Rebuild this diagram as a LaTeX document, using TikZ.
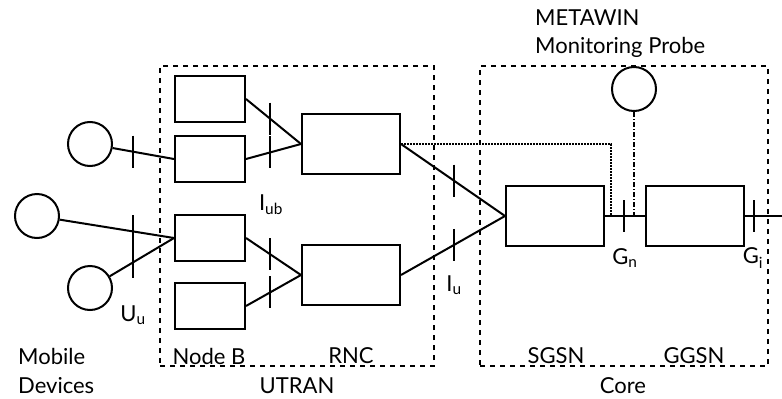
\documentclass[tikz,border=0pt]{standalone}
\usepackage{fontspec}
\setmainfont{Lato}
\usetikzlibrary{calc}
\tikzset{
  wire/.style={line width=2pt},
  elem/.style={draw, line width=2pt, rectangle, inner sep=0pt},
  nodeb/.style={elem, minimum width=70pt, minimum height=46pt},
  netbox/.style={elem, minimum width=98pt, minimum height=60pt},
  dev/.style={draw, line width=2pt, circle, minimum size=44pt, inner sep=0pt},
  region/.style={draw, line width=2pt, dash pattern=on 5pt off 5pt, rectangle, inner sep=0pt},
  tickmark/.style={line width=2pt},
  lbl/.style={inner sep=0pt, font=\fontsize{22}{26}\selectfont},
  probeline/.style={line width=2pt, densely dotted},
  tapline/.style={line width=2pt, dash pattern=on 5pt off 2pt on 1pt off 2pt},
}
\newcommand{\ifacetick}[1]{\draw[tickmark] ($(#1)+(0,-16)$) -- ($(#1)+(0,16)$);}
\begin{document}
\begin{tikzpicture}[x=1pt, y=-1pt]
  \useasboundingbox (0,0) rectangle (782,399);

  % domains
  \node[region, minimum width=274pt, minimum height=300pt] (utran) at (297,216) {};
  \node[region, minimum width=288pt, minimum height=300pt] (core) at (624,216) {};

  % mobile devices
  \node[dev] (c1) at (90,144) {};
  \node[dev] (c2) at (37,216) {};
  \node[dev] (c3) at (90,288) {};

  % base stations
  \node[nodeb] (b1) at (210,99) {};
  \node[nodeb] (b2) at (210,159) {};
  \node[nodeb] (b3) at (210,238) {};
  \node[nodeb] (b4) at (210,306) {};

  % radio network controllers
  \node[netbox] (r1) at (351,144) {};
  \node[netbox] (r2) at (351,275) {};

  % core network
  \node[netbox] (sgsn) at (555,216) {};
  \node[netbox] (ggsn) at (695,216) {};

  % monitoring probe
  \node[dev] (probe) at (634,89) {};

  % free end towards external networks
  \coordinate (ext) at (782,216);

  % links
  \draw[wire] (c1) -- (b2.west);
  \draw[wire] (c2) -- (b3.west);
  \draw[wire] (c3) -- (b3.west);
  \draw[wire] (b1.east) -- (r1.west);
  \draw[wire] (b2.east) -- (r1.west);
  \draw[wire] (b3.east) -- (r2.west);
  \draw[wire] (b4.east) -- (r2.west);
  \draw[wire] (r1.east) -- (sgsn.west);
  \draw[wire] (r2.east) -- (sgsn.west);
  \draw[wire] (sgsn.east) -- (ggsn.west);
  \draw[wire] (ggsn.east) -- (ext);

  % probe taps
  \coordinate (tapA) at (611,216);
  \coordinate (tapB) at (634,216);
  \draw[probeline] (r1.east) -| (tapA);
  \draw[tapline] (probe) -- (tapB);

  % interface ticks
  \coordinate (u1) at (intersection of c1--b2.west and 133,0--133,1);
  \coordinate (u2) at (intersection of c2--b3.west and 133,0--133,1);
  \coordinate (u3) at (intersection of c3--b3.west and 133,0--133,1);
  \coordinate (i1) at (intersection of b1.east--r1.west and 270,0--270,1);
  \coordinate (i2) at (intersection of b2.east--r1.west and 270,0--270,1);
  \coordinate (i3) at (intersection of b3.east--r2.west and 270,0--270,1);
  \coordinate (i4) at (intersection of b4.east--r2.west and 270,0--270,1);
  \coordinate (v1) at (intersection of r1.east--sgsn.west and 454,0--454,1);
  \coordinate (v2) at (intersection of r2.east--sgsn.west and 454,0--454,1);
  \coordinate (gn) at (624,216);
  \coordinate (gi) at (754,216);
  \foreach \t in {u1,u2,u3,i1,i2,i3,i4,v1,v2,gn,gi} {\ifacetick{\t}}

  % labels
  \node[lbl] (luu) at (133,315) {U\textsubscript{u}};
  \node[lbl] (liub) at (271,205) {I\textsubscript{ub}};
  \node[lbl] (liu) at (454,285) {I\textsubscript{u}};
  \node[lbl] (lgn) at (625,258) {G\textsubscript{n}};
  \node[lbl] (lgi) at (753,258) {G\textsubscript{i}};
  \node[lbl, anchor=west] (lmob) at (18,356) {Mobile};
  \node[lbl, anchor=west] (ldev) at (18,386) {Devices};
  \node[lbl] (lnb) at (209,356) {Node B};
  \node[lbl] (lrnc) at (351,356) {RNC};
  \node[lbl] (lutran) at (297,386) {UTRAN};
  \node[lbl] (lsgsn) at (556,356) {SGSN};
  \node[lbl] (lggsn) at (694,356) {GGSN};
  \node[lbl] (lcore) at (623,386) {Core};
  \node[lbl, anchor=west] (lmeta) at (535,18) {METAWIN};
  \node[lbl, anchor=west] (lprobe) at (535,47) {Monitoring Probe};
\end{tikzpicture}
\end{document}
